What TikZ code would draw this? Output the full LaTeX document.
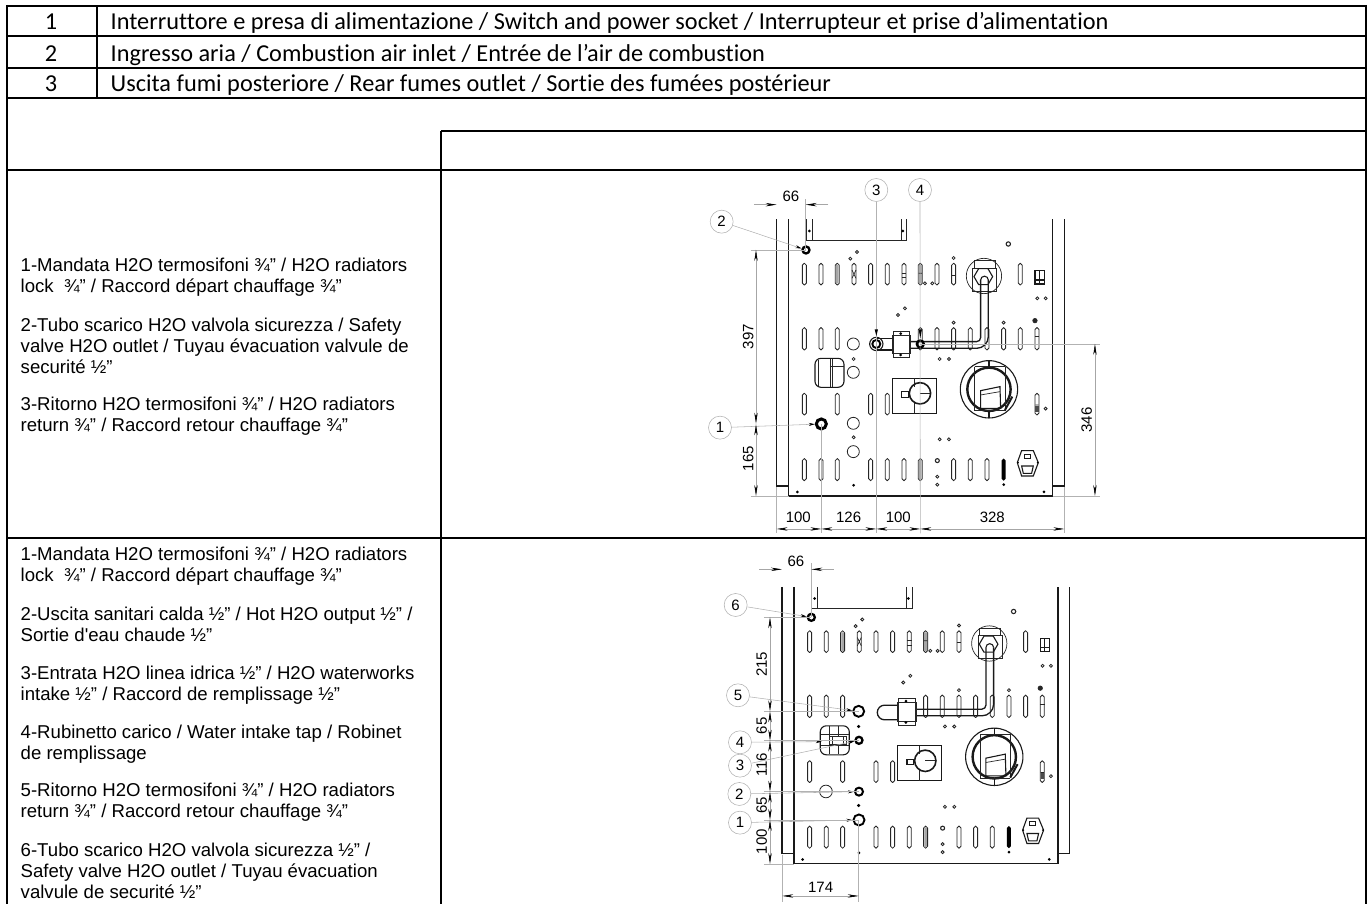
\documentclass[tikz,border=0pt]{standalone}
\usepackage{fontspec}
\usepackage{tikz}
\usetikzlibrary{arrows.meta}
\setmainfont{Liberation Sans}
\newfontfamily\arialfont{Liberation Sans}
\newfontfamily\carlitofont{Carlito}[Ligatures=NoCommon]

\tikzset{
  tabline/.style={line width=2pt,color=black},
  rowno/.style={font=\carlitofont\fontsize{24.3}{26}\selectfont,inner sep=0pt,anchor=base},
  rowtext/.style={font=\carlitofont\fontsize{24.3}{26}\selectfont,inner sep=0pt,anchor=base west},
  para/.style={font=\arialfont\fontsize{18.6}{21}\selectfont,inner sep=0pt,align=left,anchor=north west},
  outline/.style={line width=1.1pt,color=black!90},
  fine/.style={line width=.7pt,color=black!85},
  slot/.style={line width=.85pt,color=black!85,rounded corners=1.9pt},
  hole/.style={line width=.8pt,color=black!85},
  extline/.style={line width=.55pt,color=gray!60},
  dimline/.style={line width=.55pt,color=gray!70,
    {Stealth[length=11pt,width=3.4pt,black]}-{Stealth[length=11pt,width=3.4pt,black]}},
  dimleft/.style={line width=.55pt,color=gray!70,-{Stealth[length=11pt,width=3.4pt,black]}},
  dimtext/.style={font=\fontsize{15}{15}\selectfont,inner sep=0pt},
  callout/.style={circle,draw=gray!60,line width=.55pt,minimum size=23pt,inner sep=0pt,
    font=\fontsize{15}{15}\selectfont,fill=white},
  leader/.style={line width=.55pt,color=gray!60,-{Stealth[length=6pt,width=3pt,black]}},
  fitbig/.style={circle,draw=black,line width=1.9pt,minimum size=11pt,inner sep=0pt},
  fitsmall/.style={circle,draw=black,line width=2.3pt,minimum size=7pt,inner sep=0pt},
}

% the back panel that both drawings share
\newcommand{\backpanel}{
  \draw[outline] (290,148) -- (290,948) -- (326,948);
  \draw[outline,line width=1.3pt] (326,148) -- (326,978) -- (1118,978) -- (1118,148);
  \draw[outline] (1118,948) -- (1153,948) -- (1153,148);
  \draw[fine] (378,148) -- (378,212) -- (680,212) -- (680,148);
  \draw[fine] (396,148) -- (396,212) (664,148) -- (664,212);
  % slots
  \foreach \x in {373,423,472,522,572,622,672,721,771,821,1021}
    \draw[slot] ({\x-6},280) rectangle ({\x+6},345);
  \foreach \x in {373,423,472,721,771,821,871,921,971,1021,1071}
    \draw[slot] ({\x-6},473) rectangle ({\x+6},540);
  \foreach \x in {373,472,572,622,1071}
    \draw[slot] ({\x-6},670) rectangle ({\x+6},735);
  \foreach \x in {373,423,472,572,622,672,721,821,871,921}
    \draw[slot] ({\x-6},866) rectangle ({\x+6},932);
  \fill[black,rounded corners=1.9pt] (965,866) rectangle (977,932);
  \fill[gray!70] (468,285) rectangle (476,340) (716,285) rectangle (726,340) (717,870) rectangle (725,928);
  \draw[fine] (665,310) -- (679,310) (665,323) -- (679,323) (814,315) -- (828,315) (1064,500) -- (1078,500);
  \draw[fine] (516,300) -- (528,325) (516,325) -- (528,300) (716,310) -- (726,310) (1066,705) -- (1076,705);
  \fill[black!70] (1066,708) rectangle (1076,725);
  % small holes
  \foreach \x/\y in {531/246,511/266,821/264,735/340,757/340,1072/385,1097/385,675/415,654/435,
      821/458,971/458,779/567,807/567,1097/716,779/808,807/808,772/920,772/944}
    \draw[hole] (\x,\y) circle[radius=4.5];
  \draw[hole,line width=1.1pt] (985,222) circle[radius=6.5] (772,872) circle[radius=6];
  \filldraw[hole] (1065,452) circle[radius=6.5];
  \foreach \x/\y in {388/183,669/183,521/946,971/944,352/966,1092/966}
    \fill (\x,\y) circle[radius=4.5];
  % outlet and pipe
  \draw[fine] (912,318) circle[radius=53];
  \draw[fine] (878,295) rectangle (950,363) (882,272) rectangle (945,295);
  \draw[outline] (882,320) -- (896,296) -- (924,296) -- (938,320) -- (924,344) -- (896,344) -- cycle;
  \draw[outline,line width=1.3pt] (902,330) -- (902,503) arc[start angle=0,end angle=90,radius=12] -- (692,515);
  \draw[outline,line width=1.3pt] (925,330) -- (925,500) arc[start angle=0,end angle=90,radius=35] -- (692,535);
  \draw[outline] (902,330) arc[start angle=180,end angle=360,radius=11.5];
  \draw[fine] (637,495) rectangle (692,551) (640,483) rectangle (689,563);
  \fill (662,491) circle[radius=4.5] (662,555) circle[radius=4.5];
  % switch on the right
  \draw[outline] (1065,302) rectangle (1093,342) (1065,330) -- (1093,330) (1078,302) -- (1078,342);
  % terminal block
  \draw[outline] (637,625) rectangle (769,730);
  \draw[fine] (703,625) -- (703,650) (703,695) -- (703,730) (720,670) -- (750,670);
  \draw[outline,line width=1.6pt] (720,670) circle[radius=32];
  \draw[outline] (665,665) rectangle (685,682) (685,673) -- (690,673);
  % burner
  \draw[outline] (927,658) circle[radius=86];
  \draw[outline,line width=2.4pt] (927,658) circle[radius=65];
  \draw[fine] (884,590) -- (884,722) (975,590) -- (975,722) (884,590) -- (975,590) (884,722) -- (975,722);
  \draw[outline] (927,572) -- (927,590) (927,726) -- (927,744);
  \draw[outline] (902,662) -- (960,650) -- (962,715) -- (902,715) -- cycle;
  \draw[fine] (902,675) -- (960,665);
  \draw[outline,line width=2pt] (975,720) -- (997,680);
  % power inlet
  \draw[outline] (1025,842) -- (1060,842) -- (1075,878) -- (1060,918) -- (1025,918) -- (1012,878) -- cycle;
  \draw[outline] (1033,853) rectangle (1052,865);
  \draw[outline] (1025,888) -- (1060,888) -- (1055,910) -- (1030,910) -- cycle;
  \fill (1014,878) circle[radius=3] (1073,878) circle[radius=3];
  % rounded box
  \draw[outline,rounded corners=6pt] (405,565) rectangle (492,652);
}

\begin{document}
\begin{tikzpicture}[x=1pt,y=-1pt]
  \useasboundingbox (0,0) rectangle (1369,904);

  % table
  \draw[tabline] (6.7,5.8) -- (1365.8,5.8);
  \draw[tabline] (6.7,36.2) -- (1365.8,36.2);
  \draw[tabline] (6.7,68) -- (1365.8,68);
  \draw[tabline] (6.7,97.7) -- (1365.8,97.7);
  \draw[tabline] (441,131) -- (1365.8,131);
  \draw[tabline] (6.7,170) -- (1365.8,170);
  \draw[tabline] (6.7,537.7) -- (1365.8,537.7);
  \draw[tabline] (6.7,5) -- (6.7,904);
  \draw[tabline] (1365.8,5) -- (1365.8,904);
  \draw[tabline] (96.7,5.8) -- (96.7,97.7);
  \draw[tabline] (441,131) -- (441,904);

  \node[rowno] (no1) at (51,30) {1};
  \node[rowno] (no2) at (51,61.5) {2};
  \node[rowno] (no3) at (51,91.5) {3};
  \node[rowtext] (row1) at (110.5,30) {Interruttore e presa di alimentazione / Switch and power socket / Interrupteur et prise d’alimentation};
  \node[rowtext] (row2) at (110.5,61.5) {Ingresso aria / Combustion air inlet / Entrée de l’air de combustion};
  \node[rowtext] (row3) at (110.5,91.5) {Uscita fumi posteriore / Rear fumes outlet / Sortie des fumées postérieur};

  % first legend
  \node[para] (a1) at (20.5,258) {1-Mandata H2O termosifoni ¾” / H2O radiators\\lock \ ¾” / Raccord départ chauffage ¾”};
  \node[para] (a2) at (20.5,318) {2-Tubo scarico H2O valvola sicurezza / Safety\\valve H2O outlet / Tuyau évacuation valvule de\\securité ½”};
  \node[para] (a3) at (20.5,397) {3-Ritorno H2O termosifoni ¾” / H2O radiators\\return ¾” / Raccord retour chauffage ¾”};

  % second legend
  \node[para] (b1) at (20.5,547) {1-Mandata H2O termosifoni ¾” / H2O radiators\\lock \ ¾” / Raccord départ chauffage ¾”};
  \node[para] (b2) at (20.5,606.5) {2-Uscita sanitari calda ½” / Hot H2O output ½” /\\Sortie d'eau chaude ½”};
  \node[para] (b3) at (20.5,665.7) {3-Entrata H2O linea idrica ½” / H2O waterworks\\intake ½” / Raccord de remplissage ½”};
  \node[para] (b4) at (20.5,724.7) {4-Rubinetto carico / Water intake tap / Robinet\\de remplissage};
  \node[para] (b5) at (20.5,783) {5-Ritorno H2O termosifoni ¾” / H2O radiators\\return ¾” / Raccord retour chauffage ¾”};
  \node[para] (b6) at (20.5,843) {6-Tubo scarico H2O valvola sicurezza ½” /\\Safety valve H2O outlet / Tuyau évacuation\\valvule de securité ½”};

  % upper drawing
  \begin{scope}[shift={(680,170)},x=.3333pt,y=-.3333pt]
    \backpanel
    \foreach \x/\y in {520/522,520/607}
      \draw[hole] (\x,\y) circle[radius=18];
    \foreach \x/\y in {520/760,520/845}
      \draw[hole] (\x,\y) circle[radius=18];
    \draw[hole] (521,567) circle[radius=4.5] (521,802) circle[radius=4.5];
    \draw[fine] (414,570) -- (414,648) (450,567) -- (450,650) (458,567) -- (458,650) (450,590) -- (492,590);
    \draw[outline] (589,505) -- (637,505) (589,540) -- (637,540);

    \node[fitbig,minimum size=8pt] (fit3) at (589,522) {};
    \draw[outline] (fit3) circle[radius=20];
    \node[fitsmall] (fit4) at (721,522) {};
    \node[fitsmall] (fit2) at (378,240) {};
    \node[fitbig,minimum size=10pt,line width=3pt] (fit1) at (424,762) {};

    % leaders
    \node[callout] (c1) at (120,773) {1};
    \node[callout] (c2) at (125,155) {2};
    \node[callout] (c3) at (589,60) {3};
    \node[callout] (c4) at (720,60) {4};
    \draw[leader] (c1) -- (fit1);
    \draw[leader] (c2) -- (fit2);
    \draw[extline] (c3) -- (589,1090);
    \draw[extline] (c4) -- (721,1090);
    \fill (584,478) -- (594,478) -- (589,498) -- cycle;
    \fill (716,478) -- (726,478) -- (721,505) -- cycle;

    % dimensions
    \draw[extline] (377,88) -- (377,240) (212,240) -- (378,240) (212,978) -- (326,978);
    \draw[extline] (721,522) -- (1260,522) (1118,978) -- (1260,978);
    \draw[extline] (290,950) -- (290,1090) (424,762) -- (424,1090) (1153,950) -- (1153,1090);
    \draw[dimleft] (222,104) -- (290,104);
    \draw[dimleft] (445,104) -- (377,104);
    \node[dimtext] (d66) at (333,80) {66};
    \draw[dimline] (228,240) -- (228,761);
    \draw[dimline] (228,763) -- (228,978);
    \draw[dimline] (1245,522) -- (1245,978);
    \node[dimtext,rotate=90] (d397) at (205,500) {397};
    \node[dimtext,rotate=90] (d165) at (205,866) {165};
    \node[dimtext,rotate=90] (d346) at (1220,750) {346};
    \draw[dimline] (290,1077) -- (424,1077);
    \draw[dimline] (424,1077) -- (589,1077);
    \draw[dimline] (589,1077) -- (721,1077);
    \draw[dimline] (721,1077) -- (1153,1077);
    \node[dimtext] (w1) at (355,1042) {100};
    \node[dimtext] (w2) at (506,1042) {126};
    \node[dimtext] (w3) at (655,1042) {100};
    \node[dimtext] (w4) at (937,1042) {328};
  \end{scope}

  % lower drawing
  \begin{scope}[shift={(685.3,537.5)},x=.3333pt,y=-.3333pt]
    \backpanel
    \draw[outline,line width=1.3pt] (636,503) -- (598,503) arc[start angle=270,end angle=90,radius=22] -- (636,547);
    \draw[fine] (433,567) -- (433,650) (460,567) -- (460,650) (406,590) -- (492,590) (406,625) -- (492,625);
    \draw[fine,fill=white] (432,597) rectangle (482,620);
    \draw[fine] (440,597) -- (440,620) (474,597) -- (474,620);
    \draw[hole] (422,762) circle[radius=19];
    \fill (520,567) circle[radius=5] (520,804) circle[radius=5];
  \end{scope}
  \begin{scope}[shift={(680,510)},x=.3333pt,y=-.3333pt]
    \node[fitsmall] (fit6) at (394,322) {};
    \node[fitbig] (fit5) at (536,604) {};
    \node[fitsmall] (fit4b) at (537,691) {};
    \node[fitsmall,line width=2pt,minimum size=8pt] (fit2b) at (537,845) {};
    \node[fitbig] (fit1b) at (537,930) {};
    \coordinate (tap) at (425,695);

    % leaders
    \node[callout] (e1) at (180,938) {1};
    \node[callout] (e2) at (178,852) {2};
    \node[callout] (e3) at (180,767) {3};
    \node[callout] (e4) at (180,697) {4};
    \node[callout] (e5) at (174,556) {5};
    \node[callout] (e6) at (167,285) {6};
    \draw[leader] (e1) -- (fit1b);
    \draw[leader] (e2) -- (fit2b);
    \draw[leader] (e3) -- (fit4b);
    \draw[leader] (e4) -- (tap);
    \draw[leader] (e5) -- (fit5);
    \draw[leader] (e6) -- (fit6);

    % dimensions
    \draw[extline] (394,160) -- (394,322) (252,322) -- (394,322) (252,604) -- (536,604);
    \draw[extline] (252,692) -- (537,692) (252,845) -- (537,845) (252,930) -- (537,930);
    \draw[extline] (252,1062) -- (343,1062) (307,1035) -- (307,1175) (536,930) -- (536,1175);
    \draw[dimleft] (238,178) -- (306,178);
    \draw[dimleft] (462,178) -- (394,178);
    \node[dimtext] (h66) at (348,155) {66};
    \draw[dimline] (270,322) -- (270,604);
    \draw[dimline] (270,604) -- (270,692);
    \draw[dimline] (270,692) -- (270,845);
    \draw[dimline] (270,845) -- (270,930);
    \draw[dimline] (270,930) -- (270,1062);
    \node[dimtext,rotate=90] (v215) at (245,463) {215};
    \node[dimtext,rotate=90] (v65a) at (245,648) {65};
    \node[dimtext,rotate=90] (v116) at (245,765) {116};
    \node[dimtext,rotate=90] (v65b) at (245,887) {65};
    \node[dimtext,rotate=90] (v100) at (245,995) {100};
    \draw[dimline] (307,1158) -- (536,1158);
    \node[dimtext] (h174) at (422,1133) {174};
  \end{scope}
\end{tikzpicture}
\end{document}
